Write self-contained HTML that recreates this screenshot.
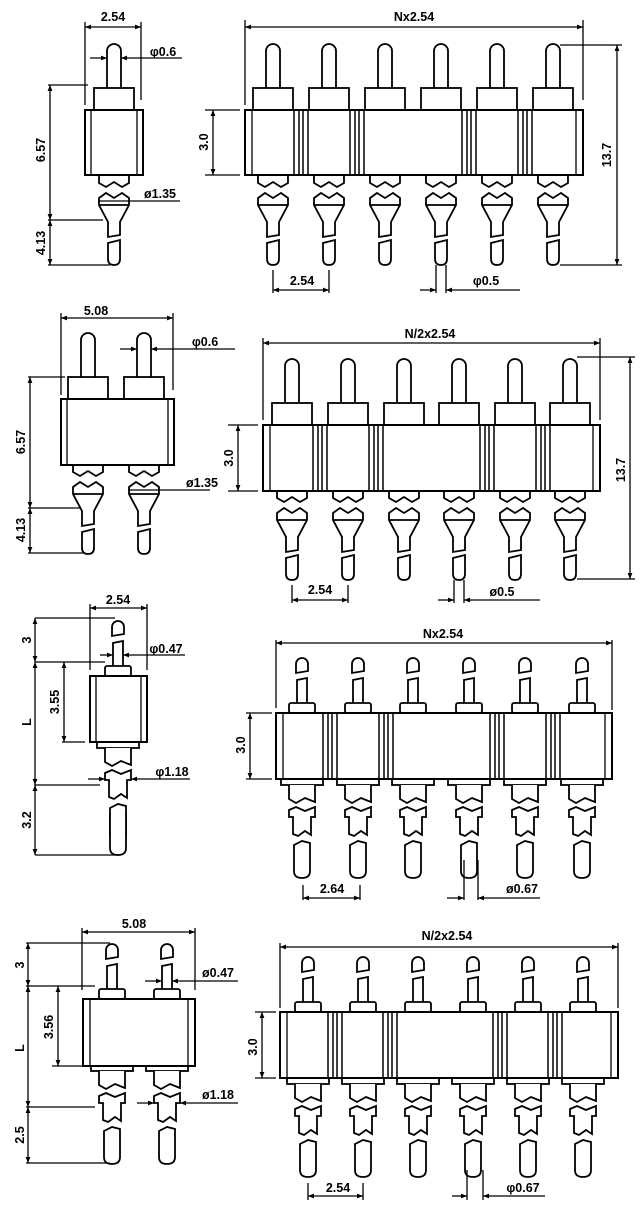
<!DOCTYPE html>
<html><head><meta charset="utf-8"><style>
html,body{margin:0;padding:0;background:#fff;}
svg{display:block;}
text{font-family:"Liberation Sans",sans-serif;font-weight:bold;font-size:12.5px;fill:#000;}
</style></head><body>
<svg width="640" height="1219" viewBox="0 0 640 1219" xmlns="http://www.w3.org/2000/svg">
<defs>
<marker id="ar" viewBox="0 0 10 10" refX="10" refY="5" markerWidth="8" markerHeight="6" orient="auto-start-reverse" markerUnits="userSpaceOnUse"><path d="M0,1 L10,5 L0,9 Z" fill="#000"/></marker>
<g id="pa" fill="#fff" stroke="#000" stroke-width="1.8">
<path d="M-7,-22 V-59 A7,7 0 0 1 7,-59 V-22"/>
<rect x="-20" y="-22" width="40" height="22"/>
<path d="M-15,66 V73 L-8,77 L0,72 L8,77 L15,73 V66"/>
<path d="M-15,88 L-8,83 L0,88 L8,83 L15,88 V95 L6,112 V125 L-6,127 V112 L-15,95 Z M-15,95 H15"/>
<path d="M-6,133 L6,130 V149 Q6,155 0,155 Q-6,155 -6,149 Z"/>
</g>
<g id="pb" fill="#fff" stroke="#000" stroke-width="1.8">
<path d="M-6,-40 V-49 A6,6 0 0 1 6,-49 V-42 Z"/>
<path d="M-5,-10 V-33 L5,-35 V-10"/>
<rect x="-13" y="-10" width="26" height="10" rx="2"/>
<rect x="-21" y="66" width="42" height="6"/>
<path d="M-13,72 V86 L-6,90 L3,85 L13,89 V72"/>
<path d="M-13,97 L-6,94 L3,98 L13,94 V104 H9 V122 L3,118 L-4,123 L-9,121 V104 H-13 Z"/>
<path d="M-8,132 L0,128 L8,130 V158 Q8,165 0,165 Q-8,165 -8,158 Z"/>
</g>
<g id="dv" stroke="#000" stroke-width="1.5"><path d="M-7,0 V66 M-2,0 V66 M2,0 V66 M7,0 V66"/></g>
</defs>

<g fill="none" stroke="#000" stroke-width="1.3">
<!-- ===== Section 1 ===== -->
<use href="#pa" x="114" y="110"/>
<rect x="85" y="110" width="58" height="65" fill="#fff" stroke-width="2"/>
<path d="M91,110 V175 M137,110 V175"/>
<path d="M85,22 V105 M141,22 V100"/>
<path d="M85,27 H141" marker-start="url(#ar)" marker-end="url(#ar)"/>
<path d="M90,58 H107" marker-end="url(#ar)"/><path d="M121,58 H182" marker-start="url(#ar)"/>
<path d="M48,85 H88 M48,220 H103 M48,265 H110"/>
<path d="M50,85 V220" marker-start="url(#ar)" marker-end="url(#ar)"/>
<path d="M50,220 V265" marker-start="url(#ar)" marker-end="url(#ar)"/>
<path d="M98,201 H180"/>

<use href="#pa" x="273" y="110"/><use href="#pa" x="329" y="110"/><use href="#pa" x="385" y="110"/>
<use href="#pa" x="441" y="110"/><use href="#pa" x="497" y="110"/><use href="#pa" x="553" y="110"/>
<rect x="245" y="110" width="338" height="65" fill="#fff" stroke-width="2"/>
<path d="M252,110 V175 M576,110 V175"/>
<use href="#dv" x="301" y="110"/><use href="#dv" x="357" y="110"/><use href="#dv" x="469" y="110"/><use href="#dv" x="525" y="110"/>
<path d="M245,20 V105 M583,20 V100"/>
<path d="M245,27 H583" marker-start="url(#ar)" marker-end="url(#ar)"/>
<path d="M205,110 H240 M205,175 H240"/>
<path d="M213,110 V175" marker-start="url(#ar)" marker-end="url(#ar)"/>
<path d="M560,45 H622 M560,265 H622"/>
<path d="M617,45 V265" marker-start="url(#ar)" marker-end="url(#ar)"/>
<path d="M273,270 V293 M329,270 V293"/>
<path d="M273,290 H329" marker-start="url(#ar)" marker-end="url(#ar)"/>
<path d="M436,265 V293 M446,265 V293"/>
<path d="M420,290 H436" marker-end="url(#ar)"/><path d="M446,290 H520" marker-start="url(#ar)"/>

<!-- ===== Section 2 ===== -->
<use href="#pa" x="88" y="399"/><use href="#pa" x="144" y="399"/>
<rect x="61" y="399" width="113" height="66" fill="#fff" stroke-width="2"/>
<path d="M67,399 V465 M168,399 V465"/>
<path d="M61,313 V395 M173,313 V390"/>
<path d="M61,318 H173" marker-start="url(#ar)" marker-end="url(#ar)"/>
<path d="M120,349 H137" marker-end="url(#ar)"/><path d="M151,349 H235" marker-start="url(#ar)"/>
<path d="M28,377 H65 M28,508 H80 M28,553 H85"/>
<path d="M30,377 V508" marker-start="url(#ar)" marker-end="url(#ar)"/>
<path d="M30,508 V553" marker-start="url(#ar)" marker-end="url(#ar)"/>
<path d="M128,490 H210"/>

<use href="#pa" x="292" y="425"/><use href="#pa" x="348" y="425"/><use href="#pa" x="404" y="425"/>
<use href="#pa" x="459" y="425"/><use href="#pa" x="515" y="425"/><use href="#pa" x="570" y="425"/>
<rect x="263" y="425" width="337" height="66" fill="#fff" stroke-width="2"/>
<path d="M270,425 V491 M593,425 V491"/>
<use href="#dv" x="320" y="425"/><use href="#dv" x="376" y="425"/><use href="#dv" x="487" y="425"/><use href="#dv" x="543" y="425"/>
<path d="M263,338 V420 M600,338 V420"/>
<path d="M263,343 H600" marker-start="url(#ar)" marker-end="url(#ar)"/>
<path d="M228,425 H258 M228,491 H258"/>
<path d="M238,425 V491" marker-start="url(#ar)" marker-end="url(#ar)"/>
<path d="M577,357 H635 M577,579 H635"/>
<path d="M630,357 V579" marker-start="url(#ar)" marker-end="url(#ar)"/>
<path d="M292,585 V603 M348,585 V603"/>
<path d="M292,600 H348" marker-start="url(#ar)" marker-end="url(#ar)"/>
<path d="M454,580 V603 M464,580 V603"/>
<path d="M438,600 H454" marker-end="url(#ar)"/><path d="M464,600 H540" marker-start="url(#ar)"/>

<!-- ===== Section 3 ===== -->
<use href="#pb" x="118" y="676"/>
<path d="M110,814 V848 Q110,855 118,855 Q126,855 126,848 V814" fill="#fff" stroke-width="1.8"/>
<rect x="90" y="676" width="57" height="66" fill="#fff" stroke-width="2"/>
<path d="M96,676 V742 M141,676 V742"/>
<path d="M90,604 V670 M147,604 V670"/>
<path d="M90,608 H147" marker-start="url(#ar)" marker-end="url(#ar)"/>
<path d="M100,655 H113" marker-end="url(#ar)"/><path d="M123,655 H185" marker-start="url(#ar)"/>
<path d="M35,618 H115 M35,662 H105 M62,742 H85 M35,785 H100 M35,855 H120"/>
<path d="M35,618 V662" marker-start="url(#ar)" marker-end="url(#ar)"/>
<path d="M64,662 V742" marker-start="url(#ar)" marker-end="url(#ar)"/>
<path d="M35,662 V785" marker-start="url(#ar)" marker-end="url(#ar)"/>
<path d="M35,785 V855" marker-start="url(#ar)" marker-end="url(#ar)"/>
<path d="M88,779 H105" marker-end="url(#ar)"/><path d="M131,779 H190" marker-start="url(#ar)"/>

<use href="#pb" x="302" y="713"/><use href="#pb" x="358" y="713"/><use href="#pb" x="413" y="713"/>
<use href="#pb" x="469" y="713"/><use href="#pb" x="525" y="713"/><use href="#pb" x="582" y="713"/>
<rect x="276" y="713" width="336" height="66" fill="#fff" stroke-width="2"/>
<path d="M283,713 V779 M605,713 V779"/>
<use href="#dv" x="330" y="713"/><use href="#dv" x="386" y="713"/><use href="#dv" x="497" y="713"/><use href="#dv" x="553" y="713"/>
<path d="M276,640 V708 M612,640 V710"/>
<path d="M276,643 H612" marker-start="url(#ar)" marker-end="url(#ar)"/>
<path d="M246,713 H272 M246,779 H272"/>
<path d="M250,713 V779" marker-start="url(#ar)" marker-end="url(#ar)"/>
<path d="M303,885 V900 M360,885 V900"/>
<path d="M303,898 H360" marker-start="url(#ar)" marker-end="url(#ar)"/>
<path d="M464,860 V900 M478,860 V900"/>
<path d="M447,898 H464" marker-end="url(#ar)"/><path d="M478,898 H540" marker-start="url(#ar)"/>

<!-- ===== Section 4 ===== -->
<use href="#pb" x="112" y="999"/><use href="#pb" x="167" y="999"/>
<rect x="83" y="999" width="112" height="67" fill="#fff" stroke-width="2"/>
<path d="M90,999 V1066 M188,999 V1066"/>
<path d="M82,928 V990 M195,928 V990"/>
<path d="M82,932 H195" marker-start="url(#ar)" marker-end="url(#ar)"/>
<path d="M145,981 H162" marker-end="url(#ar)"/><path d="M172,981 H238" marker-start="url(#ar)"/>
<path d="M26,943 H110 M26,986 H95 M52,1066 H85 M26,1107 H95 M26,1163 H110"/>
<path d="M28,943 V986" marker-start="url(#ar)" marker-end="url(#ar)"/>
<path d="M58,986 V1066" marker-start="url(#ar)" marker-end="url(#ar)"/>
<path d="M28,986 V1107" marker-start="url(#ar)" marker-end="url(#ar)"/>
<path d="M28,1107 V1163" marker-start="url(#ar)" marker-end="url(#ar)"/>
<path d="M137,1103 H154" marker-end="url(#ar)"/><path d="M180,1103 H238" marker-start="url(#ar)"/>

<use href="#pb" x="308" y="1012"/><use href="#pb" x="363" y="1012"/><use href="#pb" x="418" y="1012"/>
<use href="#pb" x="473" y="1012"/><use href="#pb" x="528" y="1012"/><use href="#pb" x="583" y="1012"/>
<rect x="280" y="1012" width="338" height="66" fill="#fff" stroke-width="2"/>
<path d="M287,1012 V1078 M611,1012 V1078"/>
<use href="#dv" x="335" y="1012"/><use href="#dv" x="390" y="1012"/><use href="#dv" x="500" y="1012"/><use href="#dv" x="555" y="1012"/>
<path d="M280,943 V1008 M618,943 V1008"/>
<path d="M280,947 H618" marker-start="url(#ar)" marker-end="url(#ar)"/>
<path d="M255,1012 H276 M255,1078 H276"/>
<path d="M262,1012 V1078" marker-start="url(#ar)" marker-end="url(#ar)"/>
<path d="M308,1183 V1200 M363,1183 V1200"/>
<path d="M308,1196 H363" marker-start="url(#ar)" marker-end="url(#ar)"/>
<path d="M467,1170 V1200 M483,1170 V1200"/>
<path d="M452,1196 H467" marker-end="url(#ar)"/><path d="M483,1196 H545" marker-start="url(#ar)"/>
</g>

<!-- Text -->
<text x="113" y="21" text-anchor="middle">2.54</text>
<text x="163" y="56" text-anchor="middle">φ0.6</text>
<text x="160" y="198" text-anchor="middle">ø1.35</text>
<text transform="translate(45,150) rotate(-90)" text-anchor="middle">6.57</text>
<text transform="translate(45,243) rotate(-90)" text-anchor="middle">4.13</text>
<text x="414" y="21" text-anchor="middle">Nx2.54</text>
<text transform="translate(208,142) rotate(-90)" text-anchor="middle">3.0</text>
<text transform="translate(611,155) rotate(-90)" text-anchor="middle">13.7</text>
<text x="302" y="285" text-anchor="middle">2.54</text>
<text x="486" y="285" text-anchor="middle">φ0.5</text>

<text x="96" y="315" text-anchor="middle">5.08</text>
<text x="205" y="346" text-anchor="middle">φ0.6</text>
<text x="202" y="487" text-anchor="middle">ø1.35</text>
<text transform="translate(25,442) rotate(-90)" text-anchor="middle">6.57</text>
<text transform="translate(25,530) rotate(-90)" text-anchor="middle">4.13</text>
<text x="430" y="338" text-anchor="middle">N/2x2.54</text>
<text transform="translate(233,458) rotate(-90)" text-anchor="middle">3.0</text>
<text transform="translate(625,470) rotate(-90)" text-anchor="middle">13.7</text>
<text x="320" y="594" text-anchor="middle">2.54</text>
<text x="502" y="596" text-anchor="middle">ø0.5</text>

<text x="118" y="604" text-anchor="middle">2.54</text>
<text x="166" y="653" text-anchor="middle">φ0.47</text>
<text x="172" y="776" text-anchor="middle">φ1.18</text>
<text transform="translate(31,640) rotate(-90)" text-anchor="middle">3</text>
<text transform="translate(59,702) rotate(-90)" text-anchor="middle">3.55</text>
<text transform="translate(31,722) rotate(-90)" text-anchor="middle">L</text>
<text transform="translate(31,820) rotate(-90)" text-anchor="middle">3.2</text>
<text x="443" y="638" text-anchor="middle">Nx2.54</text>
<text transform="translate(245,745) rotate(-90)" text-anchor="middle">3.0</text>
<text x="332" y="893" text-anchor="middle">2.64</text>
<text x="522" y="893" text-anchor="middle">ø0.67</text>

<text x="134" y="928" text-anchor="middle">5.08</text>
<text x="218" y="977" text-anchor="middle">ø0.47</text>
<text x="218" y="1099" text-anchor="middle">ø1.18</text>
<text transform="translate(24,965) rotate(-90)" text-anchor="middle">3</text>
<text transform="translate(53,1027) rotate(-90)" text-anchor="middle">3.56</text>
<text transform="translate(24,1048) rotate(-90)" text-anchor="middle">L</text>
<text transform="translate(24,1135) rotate(-90)" text-anchor="middle">2.5</text>
<text x="447" y="940" text-anchor="middle">N/2x2.54</text>
<text transform="translate(257,1047) rotate(-90)" text-anchor="middle">3.0</text>
<text x="338" y="1192" text-anchor="middle">2.54</text>
<text x="523" y="1192" text-anchor="middle">φ0.67</text>
</svg>
</body></html>
